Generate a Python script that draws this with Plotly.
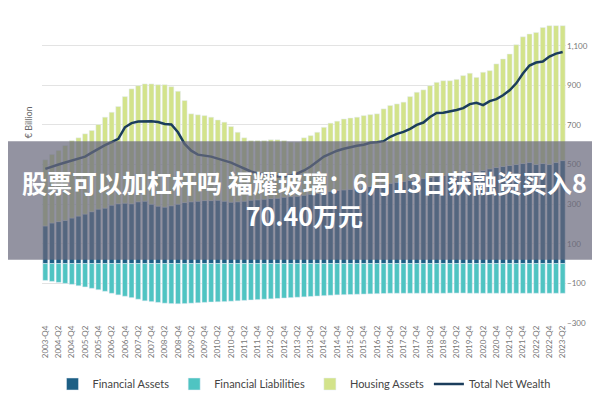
import plotly.graph_objects as go

# quarters 2003-Q4 .. 2023-Q2
quarters = []
for y in range(2003, 2024):
    for q in range(1, 5):
        quarters.append(f"{y}-Q{q}")
quarters = quarters[quarters.index("2003-Q4"):quarters.index("2023-Q2") + 1]

financial_assets = [190, 205, 212, 218, 230, 240, 250, 262, 275, 280, 295, 302, 305, 302, 312, 315,
                    300, 290, 285, 292, 300, 308, 312, 315, 318, 318, 320, 315, 310, 312, 315, 320,
                    322, 325, 328, 330, 335, 338, 340, 345, 350, 355, 360, 365, 370, 372, 375, 380,
                    385, 390, 395, 400, 405, 410, 415, 420, 425, 430, 435, 440, 445, 448, 450, 460,
                    465, 455, 470, 478, 485, 490, 495, 500, 505, 510, 500, 505, 500, 510, 520]
financial_liabilities = [-85, -90, -95, -100, -105, -112, -118, -125, -132, -140, -150, -158, -165, -172,
                         -180, -188, -192, -196, -200, -202, -203, -202, -200, -198, -196, -194, -193,
                         -192, -190, -188, -186, -184, -182, -180, -178, -176, -174, -172, -170, -168,
                         -166, -164, -162, -160, -158, -157, -156, -155, -154, -153, -152, -151, -150,
                         -150, -150, -150, -150, -150, -150, -150, -150, -149, -149, -149, -150, -150,
                         -150, -150, -150, -150, -150, -150, -150, -150, -150, -150, -150, -150, -150]
# top of the stacked bar (financial + housing assets)
housing_top = [524, 551, 571, 596, 621, 635, 655, 672, 702, 739, 764, 793, 843, 882, 898, 907,
               907, 903, 903, 893, 870, 823, 756, 751, 747, 739, 725, 714, 692, 663, 635, 621,
               621, 621, 625, 625, 621, 613, 613, 635, 646, 663, 688, 709, 719, 730, 735, 739,
               747, 752, 756, 781, 798, 806, 815, 843, 865, 877, 898, 915, 923, 923, 930, 949,
               961, 940, 966, 974, 1008, 1033, 1058, 1105, 1145, 1159, 1167, 1192, 1201, 1201, 1201]
total_net_wealth = [478, 490, 500, 510, 520, 528, 540, 560, 580, 598, 613, 630, 688, 709, 717, 719,
                    719, 715, 705, 702, 663, 604, 570, 550, 545, 540, 530, 520, 510, 495, 478, 465,
                    455, 450, 445, 440, 440, 445, 455, 470, 490, 515, 540, 555, 570, 580, 588, 595,
                    600, 610, 613, 618, 640, 655, 665, 680, 700, 712, 740, 760, 762, 768, 775, 785,
                    805, 812, 800, 820, 830, 850, 875, 910, 960, 1000, 1015, 1020, 1045, 1060, 1068]
housing_assets = [t - f for t, f in zip(housing_top, financial_assets)]

fig = go.Figure()
fig.add_trace(go.Bar(x=quarters, y=financial_assets, name="Financial Assets", marker_color="#1d5f85"))
fig.add_trace(go.Bar(x=quarters, y=financial_liabilities, name="Financial Liabilities", marker_color="#4fc4c2"))
fig.add_trace(go.Bar(x=quarters, y=housing_assets, name="Housing Assets", marker_color="#d3e38b"))
fig.add_trace(go.Scatter(x=quarters, y=total_net_wealth, name="Total Net Wealth", mode="lines",
                         line=dict(color="#1b3d5c", width=2.5)))

fig.update_layout(
    width=600, height=400,
    margin=dict(l=34, r=42, t=7, b=85, autoexpand=False),
    barmode="relative", bargap=0.25,
    plot_bgcolor="white", paper_bgcolor="white",
    font=dict(family="Lato, Noto Sans", color="#555555"),
    showlegend=True,
    legend=dict(orientation="h", x=0.5, xanchor="center", yref="container", y=0.06, yanchor="middle",
                font=dict(size=11, color="#444444"), traceorder="normal"),
    xaxis=dict(tickangle=-90, tickfont=dict(size=8, color="#777777"), showgrid=False,
               tickmode="array", tickvals=quarters[::2], ticks=""),
    yaxis=dict(side="right", range=[-300, 1255], tickvals=[-300, -100, 100, 300, 500, 700, 900, 1100],
               tickformat=",", tickfont=dict(size=8, color="#777777"), gridcolor="#e3e3e3",
               zeroline=False),
    shapes=[dict(type="rect", xref="paper", yref="paper", x0=-0.1, x1=1.12, y0=0.205, y1=0.59,
                 fillcolor="rgba(105,105,125,0.72)", line=dict(width=0), layer="above")],
    annotations=[
        dict(text="€ Billion", xref="paper", yref="paper", x=-0.04, y=0.65, textangle=-90,
             showarrow=False, font=dict(size=9, color="#666666")),
        dict(text="<b>股票可以加杠杆吗 福耀玻璃：6月13日获融资买入8<br>70.40万元</b>", xref="paper", yref="paper",
             x=0.5, y=0.405, xanchor="center", yanchor="middle", showarrow=False,
             font=dict(size=25, color="white", family="Noto Sans CJK SC"), align="center"),
    ],
)

fig.write_html("out.html")
